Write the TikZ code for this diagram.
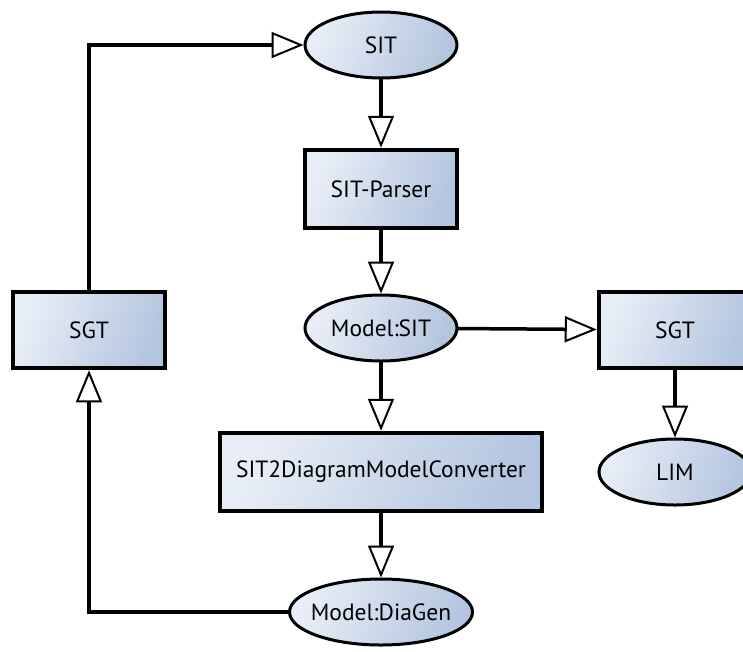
\documentclass[tikz,border=0pt]{standalone}
\usepackage{fontspec}
\setmainfont{PT Sans}
\usetikzlibrary{shapes.geometric,arrows.meta}
\definecolor{fillA}{HTML}{E8EEF7}
\definecolor{fillB}{HTML}{B3C5DF}
\tikzset{
  shade/.style={left color=fillA, right color=fillB, shading angle=70},
  blockbox/.style={shade, draw=black, line width=4.5pt, rectangle,
    minimum height=78pt, minimum width=152pt, inner sep=0pt,
    font=\fontsize{23.5}{26}\selectfont},
  blob/.style={shade, draw=black, line width=3pt, ellipse,
    minimum height=66pt, minimum width=152pt, inner sep=0pt,
    font=\fontsize{23.5}{26}\selectfont},
  flow/.style={line width=3.5pt, line cap=rect,
    -{Triangle[length=32pt, width=26pt, fill=white, line width=2pt]}},
}
\begin{document}
\begin{tikzpicture}[x=1pt, y=-1pt]
\useasboundingbox (0,0) rectangle (743,651);
\node[blob] (sit) at (381,45) {SIT};
\node[blockbox] (parser) at (381,189) {SIT-Parser};
\node[blob] (msit) at (381,328) {Model:SIT};
\node[blockbox, minimum height=76pt] (sgtL) at (89,330) {SGT};
\node[blockbox, minimum height=76pt] (sgtR) at (675,330) {SGT};
\node[blob] (lim) at (675,472) {LIM};
\node[blockbox, minimum width=322pt] (conv) at (381,472) {SIT2DiagramModelConverter};
\node[blob, minimum width=183pt, inner xsep=-7pt] (diagen) at (381,612) {Model:DiaGen};

\draw[flow] (sit) -- (parser);
\draw[flow] (parser) -- (msit);
\draw[flow] (msit) -- (conv);
\draw[flow] (conv) -- (diagen);
\draw[flow] (msit) -- (sgtR);
\draw[flow] (sgtR) -- (lim);
\draw[flow, line cap=butt] (sgtL.north) |- (sit.west);
\draw[flow, line cap=butt] (diagen.west) -| (sgtL.south);
\end{tikzpicture}
\end{document}
